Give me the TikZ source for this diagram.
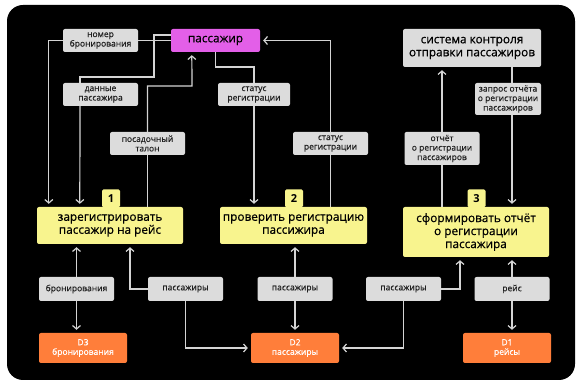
\documentclass[tikz,border=0pt]{standalone}
\usepackage{fontspec}
\setmainfont{Open Sans}
\newfontfamily\medfont{Open Sans}[FakeBold=0.35]
\newfontfamily\semifont{Open Sans}[FakeBold=0.5]
\usetikzlibrary{arrows.meta,calc}
\definecolor{procyellow}{HTML}{F8F48E}
\definecolor{lblgray}{HTML}{DCDCDC}
\definecolor{storeorange}{HTML}{FF7E3A}
\definecolor{actormag}{HTML}{E35FE8}
\definecolor{wire}{HTML}{D4D4D4}
\definecolor{lbltext}{HTML}{202020}
\begin{document}
\begin{tikzpicture}[x=1pt,y=-1pt,
  lbl/.style={fill=lblgray, rounded corners=2pt, text=lbltext, font=\medfont\fontsize{8.5}{9.5}\selectfont, align=center, minimum width=75pt, minimum height=23pt, inner sep=1pt},
  proc/.style={fill=procyellow, rounded corners=2pt, text=black, font=\semifont\fontsize{11.8}{13}\selectfont, align=center, inner sep=1pt},
  tabbox/.style={fill=procyellow, rounded corners=1.5pt, text=black, font=\fontsize{11}{12}\selectfont\bfseries, minimum width=18pt, minimum height=18pt, inner sep=0pt},
  store/.style={fill=storeorange, rounded corners=2pt, text=white, font=\medfont\fontsize{8.5}{9.5}\selectfont, align=center, minimum width=88pt, minimum height=30pt, inner sep=1pt},
  wire/.style={draw=wire, line width=1.2pt},
  arr/.style={wire, -{Straight Barb[length=3.5pt,width=8pt]}, shorten >=3pt}]
\useasboundingbox (0,0) rectangle (579,382);
\fill[black, rounded corners=16pt] (7,5) rectangle (575,380);

% actors
\node[fill=actormag, rounded corners=2pt, font=\semifont\fontsize{11.8}{13}\selectfont, minimum width=89pt, minimum height=23pt, inner sep=1pt] (pas) at (215.5,40.5) {пассажир};
\node[fill=lblgray, rounded corners=2pt, font=\semifont\fontsize{11.8}{13}\selectfont, align=center, minimum width=138pt, minimum height=38pt, inner sep=1pt] (sys) at (472,48) {система контроля\\отправки пассажиров};

% labels
\node[lbl] (nb) at (100.5,40.5) {номер\\бронирования};
\node[lbl] (dp) at (100.5,94.5) {данные\\пассажира};
\node[lbl, minimum width=72pt] (sr1) at (254,94.5) {статус\\регистрации};
\node[lbl, minimum width=66pt, minimum height=32pt] (zo) at (508,99) {запрос отчёта\\о регистрации\\пассажиров};
\node[lbl] (pt) at (147.5,143.5) {посадочный\\талон};
\node[lbl] (sr2) at (330.5,143.5) {статус\\регистрации};
\node[lbl, minimum height=33pt] (ot) at (442,148.5) {отчёт\\о регистрации\\пассажиров};

% processes
\node[proc, minimum width=146pt, minimum height=37pt] (p1) at (110,225.5) {зарегистрировать\\пассажир на рейс};
\node[proc, minimum width=147pt, minimum height=37pt] (p2) at (293.5,225.5) {проверить регистрацию\\пассижира};
\node[proc, minimum width=146pt, minimum height=50pt] (p3) at (476,232) {сформировать отчёт\\о регистрации\\пассажира};
\node[tabbox, anchor=south] (t1) at (111,207.5) {1};
\node[tabbox, anchor=south] (t2) at (294,207.5) {2};
\node[tabbox, anchor=south] (t3) at (476.5,207.5) {3};

% bottom labels
\node[lbl, minimum height=24pt] (br) at (76.5,289) {бронирования};
\node[lbl, minimum height=24pt] (ps1) at (185.5,289) {пассажиры};
\node[lbl, minimum height=24pt] (ps2) at (295,289) {пассажиры};
\node[lbl, minimum height=24pt] (ps3) at (403.5,289) {пассажиры};
\node[lbl, minimum height=24pt] (rs) at (512,289) {рейс};

% stores
\node[store] (d3) at (83,348) {D3\\бронирования};
\node[store] (d2) at (295,348) {D2\\пассажиры};
\node[store] (d1) at (507,348) {D1\\рейсы};

% waypoints
\coordinate (c1) at (154,77);
\coordinate (c2) at (192,86);
\coordinate (c3) at (254,67);

% connectors
\draw[wire] (pas.west) -- (nb.east);
\draw[arr] (nb.west) -| ([xshift=12pt]p1.north west);

\draw[wire] ([yshift=5.5pt]pas.west) -| (c1) -| ([xshift=-20.5pt]dp.north);
\draw[arr] ([xshift=-20.5pt]dp.south) -- ([xshift=43pt]p1.north west);

\draw[wire] (p1.north -| pt.south) -- (pt.south);
\draw[arr] (pt.north) |- (c2) -- ([xshift=21pt]pas.south west);

\draw[wire] (pas.south) |- (c3) -- (sr1.north);
\draw[arr] (sr1.south) -- (sr1.south |- p2.north);

\draw[wire] (p2.north -| sr2.south) -- (sr2.south);
\draw[arr] (sr2.north) |- (pas.east);

\draw[wire] (p3.north -| ot.south) -- (ot.south);
\draw[arr] (ot.north) -- (ot.north |- sys.south);

\draw[wire] ([xshift=4pt]zo.north |- sys.south) -- ([xshift=4pt]zo.north);
\draw[arr] ([xshift=4pt]zo.south) -- ([xshift=4pt]zo.south |- p3.north);

\draw[arr] (br.north) -- (br.north |- p1.south);
\draw[arr] (br.south) -- (br.south |- d3.north);

\draw[arr] (ps1.west) -| ([xshift=20pt]p1.south);
\draw[arr] (ps1.south) |- (d2.west);

\draw[arr] (ps2.north) -- (ps2.north |- p2.south);
\draw[arr] (ps2.south) -- (ps2.south |- d2.north);

\draw[arr] (ps3.east) -| ([xshift=-16pt]p3.south);
\draw[arr] (ps3.south) |- (d2.east);

\draw[arr] (rs.north) -- (rs.north |- p3.south);
\draw[arr] (rs.south) -- (rs.south |- d1.north);
\end{tikzpicture}
\end{document}
